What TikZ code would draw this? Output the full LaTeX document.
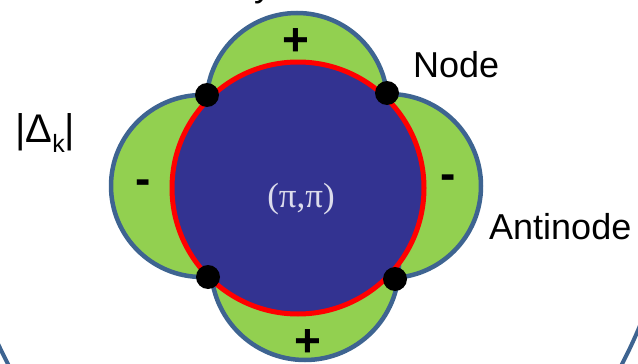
\documentclass[tikz,border=0pt]{standalone}
\usepackage{fontspec}
\setmainfont{Liberation Sans}
\newfontfamily\pifont{Liberation Serif}
\usepackage{tikz}
\usetikzlibrary{positioning}
\definecolor{lobegreen}{HTML}{92D050}
\definecolor{lobeblue}{HTML}{3E6491}
\definecolor{fsblue}{HTML}{333391}
\definecolor{gapred}{HTML}{FF0000}
\definecolor{pigrey}{HTML}{DCDCEC}

\begin{document}
\begin{tikzpicture}[x=1pt, y=-1pt,
  lobe/.style={fill=lobegreen, draw=lobeblue, line width=4.5pt},
  sign/.style={inner sep=0pt, font=\fontsize{46}{46}\selectfont\bfseries},
  lbl/.style={inner sep=0pt, anchor=base west, font=\fontsize{36}{36}\selectfont},
  gapdot/.style={circle, fill=black, inner sep=0pt, minimum size=24pt}]
\useasboundingbox (0,0) rectangle (638,364);
% outer frame, only its bottom corners are seen
\draw[lobeblue, line width=4pt] (315,120) ellipse [x radius=365, y radius=451];
\node[lbl] (cut) at (254,-3) {y};
% gap lobes
\draw[lobe] (297,103.5) circle [radius=90.5];
\draw[lobe] (202,186) circle [radius=91];
\draw[lobe] (389,186) circle [radius=92];
\draw[lobe] (305,266) circle [radius=94];
% Fermi surface
\draw[fill=fsblue, draw=gapred, line width=5pt] (298,188) circle [radius=126];
\node[inner sep=0pt, font=\fontsize{35}{35}\pifont, text=pigrey] (qpoint) at (301,199) {(π,π)};
% nodes of the gap
\node[gapdot] (dotnw) at (207,95) {};
\node[gapdot] (dotne) at (387,93) {};
\node[gapdot] (dotsw) at (208,277) {};
\node[gapdot] (dotse) at (395,279) {};
% signs
\node[sign] (plustop) at (296,42) {+};
\node[sign] (plusbot) at (308,343) {+};
\node[sign] (minusl) at (143,187) {-};
\node[sign] (minusr) at (448,182) {-};
% labels
\node[lbl] (nodelbl) at (413,77) {Node};
\node[lbl] (antilbl) at (489,239) {Antinode};
\node[lbl, font=\fontsize{40}{40}\selectfont] (gaplbl) at (15,142)
  {|Δ\raisebox{-10pt}{\fontsize{25}{25}\selectfont k}|};
\end{tikzpicture}
\end{document}
